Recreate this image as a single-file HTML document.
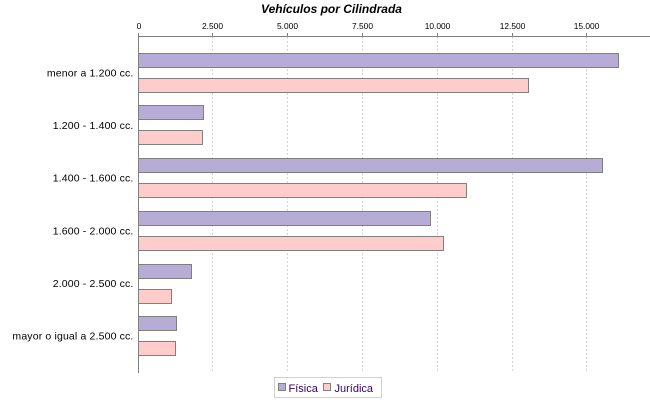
<!DOCTYPE html>
<html><head><meta charset="utf-8"><style>
html,body{margin:0;padding:0;background:#fff;}
svg{display:block;}
text{font-family:"Liberation Sans",Arial,sans-serif;}
</style></head><body>
<svg width="650" height="400" viewBox="0 0 650 400" xmlns="http://www.w3.org/2000/svg">
<rect width="650" height="400" fill="#fff"/>
<text x="331.5" y="13" text-anchor="middle" font-size="12" font-weight="bold" font-style="italic" fill="#000">Vehículos por Cilindrada</text>
<!-- gridlines -->
<g stroke="#d4d4d4" stroke-width="1" stroke-dasharray="2,2">
<line x1="212.5" y1="37" x2="212.5" y2="373"/>
<line x1="287.5" y1="37" x2="287.5" y2="373"/>
<line x1="362.5" y1="37" x2="362.5" y2="373"/>
<line x1="437.5" y1="37" x2="437.5" y2="373"/>
<line x1="512.5" y1="37" x2="512.5" y2="373"/>
<line x1="586.5" y1="37" x2="586.5" y2="373"/>
</g>
<!-- axes -->
<g stroke="#808080" stroke-width="1">
<line x1="138" y1="36.5" x2="650" y2="36.5"/>
<line x1="138.5" y1="33" x2="138.5" y2="373"/>
<line x1="212.5" y1="33" x2="212.5" y2="37"/>
<line x1="287.5" y1="33" x2="287.5" y2="37"/>
<line x1="362.5" y1="33" x2="362.5" y2="37"/>
<line x1="437.5" y1="33" x2="437.5" y2="37"/>
<line x1="512.5" y1="33" x2="512.5" y2="37"/>
<line x1="586.5" y1="33" x2="586.5" y2="37"/>
</g>
<g font-size="8.4" fill="#000" text-anchor="middle">
<text x="139" y="29">0</text>
<text x="212.5" y="29">2.500</text>
<text x="287.5" y="29">5.000</text>
<text x="362.5" y="29">7.500</text>
<text x="437.5" y="29">10.000</text>
<text x="512.5" y="29">12.500</text>
<text x="586.5" y="29">15.000</text>
</g>
<!-- bars -->
<g stroke="#808080" stroke-width="1">
<rect x="138.5" y="53.5" width="480" height="14" fill="#b7acd6"/>
<rect x="138.5" y="78.5" width="390" height="14" fill="#ffcccc"/>
<rect x="138.5" y="105.5" width="65" height="14" fill="#b7acd6"/>
<rect x="138.5" y="130.5" width="64" height="14" fill="#ffcccc"/>
<rect x="138.5" y="158.5" width="464" height="14" fill="#b7acd6"/>
<rect x="138.5" y="183.5" width="328" height="14" fill="#ffcccc"/>
<rect x="138.5" y="211.5" width="292" height="14" fill="#b7acd6"/>
<rect x="138.5" y="236.5" width="305" height="14" fill="#ffcccc"/>
<rect x="138.5" y="264.5" width="53" height="14" fill="#b7acd6"/>
<rect x="138.5" y="289.5" width="33" height="14" fill="#ffcccc"/>
<rect x="138.5" y="316.5" width="38" height="14" fill="#b7acd6"/>
<rect x="138.5" y="341.5" width="37" height="14" fill="#ffcccc"/>
</g>
<!-- category labels -->
<g font-size="10.5" fill="#000" text-anchor="end" letter-spacing="0.15">
<text x="133.5" y="76.5">menor a 1.200 cc.</text>
<text x="133.5" y="129">1.200 - 1.400 cc.</text>
<text x="133.5" y="181.5">1.400 - 1.600 cc.</text>
<text x="133.5" y="234.5">1.600 - 2.000 cc.</text>
<text x="133.5" y="287">2.000 - 2.500 cc.</text>
<text x="133.5" y="339.5">mayor o igual a 2.500 cc.</text>
</g>
<!-- legend -->
<rect x="274.5" y="377.5" width="107" height="20" fill="#fff" stroke="#d0d0d0" stroke-width="1"/>
<rect x="278.5" y="383.5" width="7" height="7" fill="#b7acd6" stroke="#808080" stroke-width="1"/>
<text x="288.5" y="392" font-size="11" fill="#330066">Física</text>
<rect x="323.5" y="383.5" width="7" height="7" fill="#ffcccc" stroke="#808080" stroke-width="1"/>
<text x="334.5" y="392" font-size="11" fill="#330066">Jurídica</text>
</svg>
</body></html>
